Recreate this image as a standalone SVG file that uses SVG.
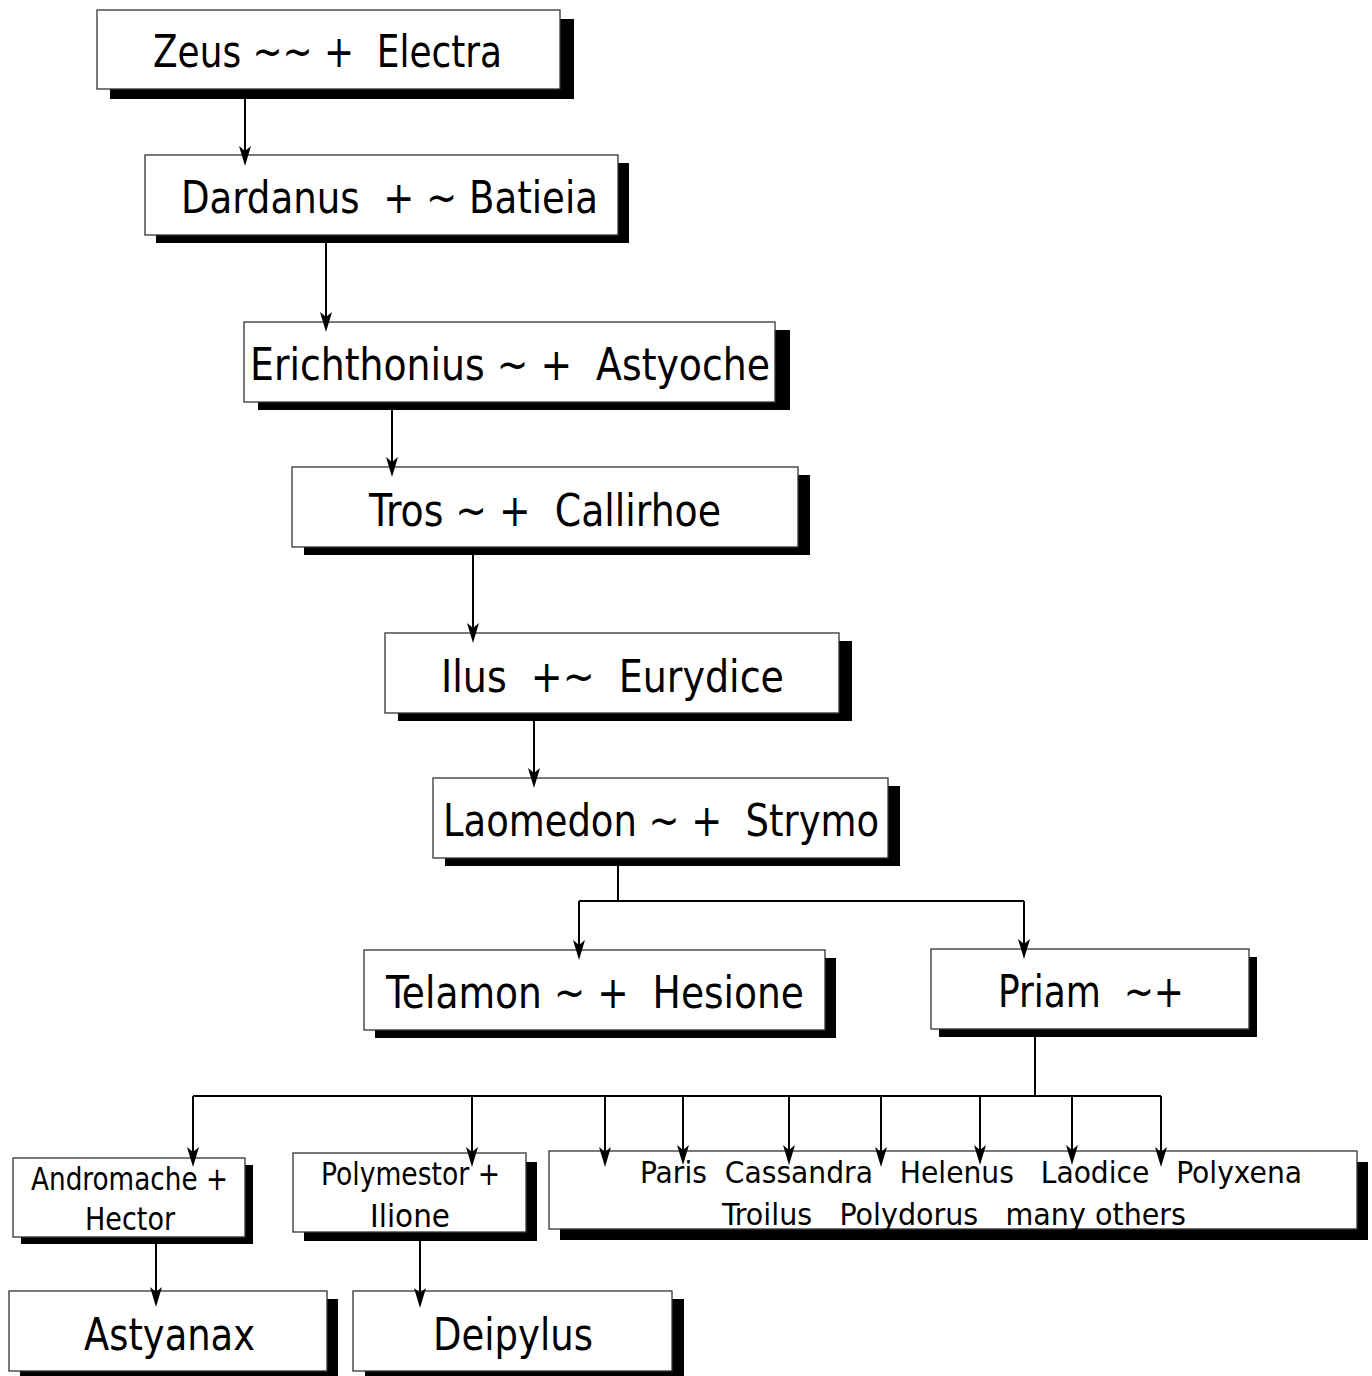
<svg xmlns="http://www.w3.org/2000/svg" width="1372" height="1376" viewBox="0 0 1372 1376">
<defs>
<style>
.box{fill:#fff;stroke:#333;stroke-width:1.3}
.sh{fill:#000}
.t{font-family:"DejaVu Sans Condensed","Liberation Sans Narrow","Liberation Sans",sans-serif;font-stretch:condensed;fill:#000;white-space:pre}
.big{font-size:44px}
.mid{font-size:32px}
.sm{font-size:31px}
.c{fill:none;stroke:#000;stroke-width:2}
.ah{fill:#000}
</style>
</defs>
<rect width="1372" height="1376" fill="#fff"/>
<g id="n1"><rect class="sh" x="110" y="19" width="464" height="80"/><rect class="box" x="97" y="10" width="463" height="79"/><text class="t big" x="153" y="67" textLength="349" lengthAdjust="spacingAndGlyphs">Zeus ~~ +  Electra</text></g>
<g id="n2"><rect class="sh" x="156" y="163" width="473" height="80"/><rect class="box" x="145" y="155" width="473" height="80"/><text class="t big" x="181" y="213" textLength="417" lengthAdjust="spacingAndGlyphs">Dardanus  + ~ Batieia</text></g>
<g id="n3"><rect class="sh" x="258" y="330" width="532" height="80"/><rect class="box" x="244" y="322" width="531" height="80"/><text class="t big" x="250" y="380" textLength="520" lengthAdjust="spacingAndGlyphs">Erichthonius ~ +  Astyoche</text></g>
<g id="n4"><rect class="sh" x="304" y="475" width="506" height="80"/><rect class="box" x="292" y="467" width="506" height="80"/><text class="t big" x="369" y="526" textLength="352" lengthAdjust="spacingAndGlyphs">Tros ~ +  Callirhoe</text></g>
<g id="n5"><rect class="sh" x="398" y="641" width="454" height="80"/><rect class="box" x="385" y="633" width="454" height="80"/><text class="t big" x="441" y="692" textLength="343" lengthAdjust="spacingAndGlyphs">Ilus  +~  Eurydice</text></g>
<g id="n6"><rect class="sh" x="445" y="786" width="455" height="80"/><rect class="box" x="433" y="778" width="455" height="80"/><text class="t big" x="443" y="836" textLength="436" lengthAdjust="spacingAndGlyphs">Laomedon ~ +  Strymo</text></g>
<g id="n7"><rect class="sh" x="375" y="958" width="461" height="80"/><rect class="box" x="364" y="950" width="461" height="80"/><text class="t big" x="386" y="1008" textLength="418" lengthAdjust="spacingAndGlyphs">Telamon ~ +  Hesione</text></g>
<g id="n8"><rect class="sh" x="939" y="957" width="318" height="80"/><rect class="box" x="931" y="949" width="318" height="80"/><text class="t big" x="998" y="1007" textLength="186" lengthAdjust="spacingAndGlyphs">Priam  ~+</text></g>
<g id="n9"><rect class="sh" x="21" y="1165" width="232" height="79"/><rect class="box" x="13" y="1158" width="232" height="79"/><text class="t mid" x="31" y="1190" textLength="197" lengthAdjust="spacingAndGlyphs">Andromache +</text><text class="t mid" x="85" y="1230" textLength="90" lengthAdjust="spacingAndGlyphs">Hector</text></g>
<g id="n10"><rect class="sh" x="304" y="1162" width="233" height="79"/><rect class="box" x="293" y="1153" width="233" height="79"/><text class="t mid" x="321" y="1185" textLength="179" lengthAdjust="spacingAndGlyphs">Polymestor +</text><text class="t mid" x="370" y="1227" textLength="80" lengthAdjust="spacingAndGlyphs">Ilione</text></g>
<g id="n11"><rect class="sh" x="560" y="1162" width="808" height="78"/><rect class="box" x="549" y="1151" width="808" height="78"/><text class="t sm" x="640" y="1183" textLength="662" lengthAdjust="spacingAndGlyphs">Paris  Cassandra   Helenus   Laodice   Polyxena</text><text class="t sm" x="722" y="1225" textLength="464" lengthAdjust="spacingAndGlyphs">Troilus   Polydorus   many others</text></g>
<g id="n12"><rect class="sh" x="20" y="1299" width="318" height="80"/><rect class="box" x="9" y="1291" width="318" height="80"/><text class="t big" x="84" y="1350" textLength="171" lengthAdjust="spacingAndGlyphs">Astyanax</text></g>
<g id="n13"><rect class="sh" x="365" y="1299" width="319" height="80"/><rect class="box" x="353" y="1291" width="319" height="80"/><text class="t big" x="433" y="1350" textLength="160" lengthAdjust="spacingAndGlyphs">Deipylus</text></g>
<g id="connectors">
<path class="c" d="M245,99 V160"/>
<path class="c" d="M326,243 V326"/>
<path class="c" d="M392,410 V471"/>
<path class="c" d="M473,555 V637"/>
<path class="c" d="M534,721 V782"/>
<path class="c" d="M618,866 V901 M579,901 H1024"/>
<path class="c" d="M579,901 V954"/>
<path class="c" d="M1024,901 V953"/>
<path class="c" d="M1035,1037 V1096 M193,1096 H1161"/>
<path class="c" d="M193,1096 V1161"/>
<path class="c" d="M472,1096 V1161"/>
<path class="c" d="M605,1096 V1161"/>
<path class="c" d="M683,1096 V1159"/>
<path class="c" d="M789,1096 V1159"/>
<path class="c" d="M881,1096 V1161"/>
<path class="c" d="M980,1096 V1159"/>
<path class="c" d="M1072,1096 V1159"/>
<path class="c" d="M1161,1096 V1161"/>
<path class="c" d="M156,1244 V1301"/>
<path class="c" d="M420,1241 V1302"/>
<path class="ah" d="M245,166 l-6,-20 l6,5 l6,-5 Z"/>
<path class="ah" d="M326,332 l-6,-20 l6,5 l6,-5 Z"/>
<path class="ah" d="M392,477 l-6,-20 l6,5 l6,-5 Z"/>
<path class="ah" d="M473,643 l-6,-20 l6,5 l6,-5 Z"/>
<path class="ah" d="M534,788 l-6,-20 l6,5 l6,-5 Z"/>
<path class="ah" d="M579,960 l-6,-20 l6,5 l6,-5 Z"/>
<path class="ah" d="M1024,959 l-6,-20 l6,5 l6,-5 Z"/>
<path class="ah" d="M193,1167 l-6,-20 l6,5 l6,-5 Z"/>
<path class="ah" d="M472,1167 l-6,-20 l6,5 l6,-5 Z"/>
<path class="ah" d="M605,1167 l-6,-20 l6,5 l6,-5 Z"/>
<path class="ah" d="M683,1165 l-6,-20 l6,5 l6,-5 Z"/>
<path class="ah" d="M789,1165 l-6,-20 l6,5 l6,-5 Z"/>
<path class="ah" d="M881,1167 l-6,-20 l6,5 l6,-5 Z"/>
<path class="ah" d="M980,1165 l-6,-20 l6,5 l6,-5 Z"/>
<path class="ah" d="M1072,1165 l-6,-20 l6,5 l6,-5 Z"/>
<path class="ah" d="M1161,1167 l-6,-20 l6,5 l6,-5 Z"/>
<path class="ah" d="M156,1307 l-6,-20 l6,5 l6,-5 Z"/>
<path class="ah" d="M420,1308 l-6,-20 l6,5 l6,-5 Z"/>
</g>
</svg>
